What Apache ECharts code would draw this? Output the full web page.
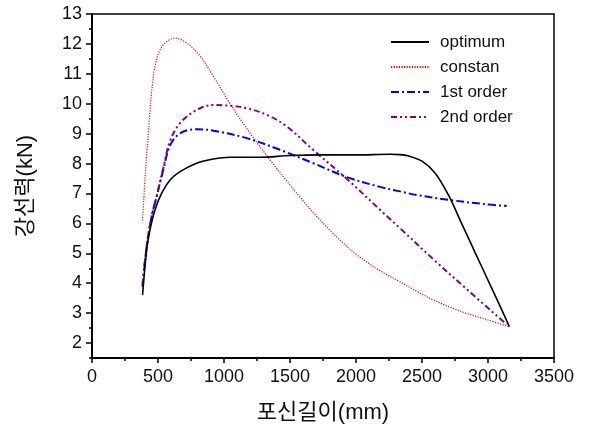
<!DOCTYPE html>
<html>
<head>
<meta charset="utf-8">
<script src="https://cdn.jsdelivr.net/npm/echarts@6/dist/echarts.min.js"></script>
<style>html,body{margin:0;padding:0;background:#fff;}#c{width:591px;height:431px;}</style>
</head>
<body>
<div id="c"></div>
<script>
var seriesNames = ['optimum', 'constan', '1st order', '2nd order'];

var optimumX = [383, 414, 439, 477, 528, 591, 667, 793, 919, 1045, 1273, 1500, 1750, 2000, 2258, 2333, 2400, 2500, 2600, 2700, 2800, 2900, 3000, 3100, 3162];
var optimumY = [3.6, 5.11, 5.78, 6.45, 7.01, 7.45, 7.73, 8.01, 8.15, 8.21, 8.21, 8.27, 8.29, 8.29, 8.31, 8.3, 8.25, 8.08, 7.68, 6.95, 6.0, 5.05, 4.1, 3.15, 2.55];

var constanX = [383, 401, 414, 427, 440, 452, 477, 515, 566, 629, 717, 818, 919, 1053, 1200, 1349, 1475, 1600, 1700, 1800, 1900, 2000, 2100, 2200, 2333, 2460, 2586, 2712, 2839, 3000, 3154];
var constanY = [6.1, 7.45, 8.3, 9.0, 9.8, 10.4, 11.24, 11.8, 12.08, 12.19, 12.03, 11.6, 10.92, 9.95, 9.0, 8.12, 7.42, 6.75, 6.25, 5.78, 5.35, 4.97, 4.65, 4.37, 4.05, 3.73, 3.44, 3.2, 2.99, 2.77, 2.55];

var firstX = [383, 414, 452, 490, 540, 591, 667, 793, 919, 1172, 1424, 1677, 1929, 2182, 2333, 2460, 2712, 2965, 3142];
var firstY = [3.88, 5.22, 6.23, 6.9, 7.79, 8.6, 9.01, 9.15, 9.1, 8.85, 8.46, 8.01, 7.55, 7.22, 7.07, 6.95, 6.78, 6.65, 6.58];

var secondX = [383, 414, 452, 490, 540, 591, 667, 793, 919, 1045, 1172, 1323, 1475, 1677, 1940, 2207, 2333, 2586, 2839, 3142];
var secondY = [3.95, 5.25, 6.25, 6.92, 7.85, 8.75, 9.35, 9.79, 9.96, 9.93, 9.85, 9.63, 9.24, 8.45, 7.45, 6.35, 5.84, 4.8, 3.8, 2.62];

var xTicks = [0, 500, 1000, 1500, 2000, 2500, 3000, 3500];
var xMinor = [250, 750, 1250, 1750, 2250, 2750, 3250];
var yLabels = [2, 3, 4, 5, 6, 7, 8, 9, 10, 11, 12, 13];
var yMinor = [1.5, 2.5, 3.5, 4.5, 5.5, 6.5, 7.5, 8.5, 9.5, 10.5, 11.5, 12.5];

function zip(xs, ys) { return xs.map(function (x, i) { return [x, ys[i]]; }); }

var FONT = "'Liberation Sans', Arial, 'Noto Sans CJK KR', sans-serif";
var TXT = '#111';
var tickStyle = { color: '#000', width: 1.5 };

var chart = echarts.init(document.getElementById('c'), null, { renderer: 'canvas' });
chart.setOption({
  animation: false,
  backgroundColor: '#fff',
  grid: { left: 92, right: 37, top: 14, bottom: 73, show: true, borderColor: '#000', borderWidth: 1.5, backgroundColor: 'transparent' },
  legend: {
    orient: 'vertical', left: 385, top: 27,
    itemWidth: 38, itemHeight: 14, itemGap: 5,
    data: seriesNames,
    itemStyle: { color: 'transparent', borderWidth: 0, opacity: 0 },
    textStyle: { fontFamily: FONT, fontSize: 17, color: TXT, lineHeight: 20, padding: [0, 0, 0, 6] }
  },
  xAxis: [{
    type: 'value', min: 0, max: 3500, interval: 500,
    name: '포신길이(mm)', nameLocation: 'middle', nameGap: 44,
    nameTextStyle: { fontFamily: FONT, fontSize: 22, color: TXT },
    axisLine: { show: true, lineStyle: { color: '#000', width: 2 } },
    axisTick: { show: true, length: 5, customValues: xTicks, lineStyle: tickStyle },
    axisLabel: { fontFamily: FONT, fontSize: 18, color: TXT, margin: 10, customValues: xTicks, formatter: function (v) { return String(v); } },
    splitLine: { show: false }
  }, {
    type: 'value', min: 0, max: 3500, position: 'bottom', offset: 0,
    axisLine: { show: false },
    axisTick: { show: true, length: 3, customValues: xMinor, lineStyle: tickStyle },
    axisLabel: { show: false },
    splitLine: { show: false }
  }],
  yAxis: [{
    type: 'value', min: 1.5, max: 13,
    name: '강선력(kN)', nameLocation: 'middle', nameGap: 55, nameRotate: 90,
    nameTextStyle: { fontFamily: FONT, fontSize: 22, color: TXT },
    axisLine: { show: true, lineStyle: { color: '#000', width: 2 } },
    axisTick: { show: true, length: 6, customValues: yLabels, lineStyle: tickStyle },
    axisLabel: { fontFamily: FONT, fontSize: 18, color: TXT, margin: 10, customValues: yLabels },
    splitLine: { show: false }
  }, {
    type: 'value', min: 1.5, max: 13, position: 'left', offset: 0,
    axisLine: { show: false },
    axisTick: { show: true, length: 3, customValues: yMinor, lineStyle: tickStyle },
    axisLabel: { show: false },
    splitLine: { show: false }
  }],
  series: [{
    name: 'optimum', type: 'line', data: zip(optimumX, optimumY), smooth: 0.35, showSymbol: false, symbol: 'none',
    lineStyle: { color: '#000', width: 1.6, type: 'solid' }, itemStyle: { color: '#000' }, z: 5
  }, {
    name: 'constan', type: 'line', data: zip(constanX, constanY), smooth: 0.35, showSymbol: false, symbol: 'none',
    lineStyle: { color: '#ff0000', width: 1.2, type: [1.2, 1.4] }, itemStyle: { color: '#ff0000' }
  }, {
    name: '1st order', type: 'line', data: zip(firstX, firstY), smooth: 0.35, showSymbol: false, symbol: 'none',
    lineStyle: { color: '#0000ff', width: 2, type: [8, 3, 2, 3] }, itemStyle: { color: '#0000ff' }
  }, {
    name: '2nd order', type: 'line', data: zip(secondX, secondY), smooth: 0.35, showSymbol: false, symbol: 'none',
    lineStyle: { color: '#800080', width: 2, type: [6, 3, 2, 3, 2, 3] }, itemStyle: { color: '#800080' }
  }]
});
</script>
</body>
</html>
